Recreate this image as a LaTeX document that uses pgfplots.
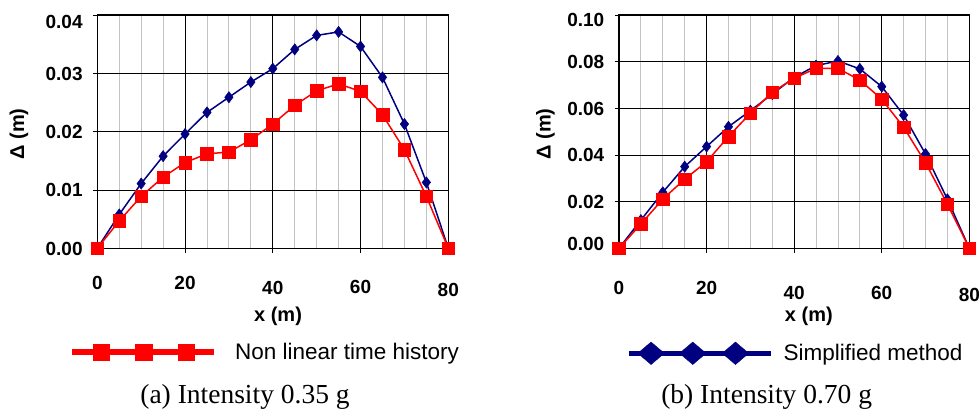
\documentclass[border=0pt]{standalone}
\usepackage{fontspec}
\setmainfont{Liberation Serif}
\setsansfont{Liberation Sans}
\usepackage{pgfplots}
\usepackage{pgfplotstable}
\pgfplotsset{compat=1.18}
\definecolor{navyblue}{RGB}{0,0,128}
\definecolor{purered}{RGB}{255,0,0}
\definecolor{mgrid}{RGB}{195,195,195}

\pgfplotstableread{
x  nlA     smA     nlB     smB
0  0       0       0       0
5  0.0047  0.0058  0.0104  0.0121
10 0.0089  0.0111  0.0211  0.0240
15 0.0122  0.0158  0.0296  0.0350
20 0.0147  0.0196  0.0371  0.0436
25 0.0162  0.0233  0.0479  0.0521
30 0.0165  0.0259  0.0579  0.0590
35 0.0186  0.0285  0.0669  0.0661
40 0.0213  0.0308  0.0729  0.0733
45 0.0245  0.0341  0.0771  0.0783
50 0.0270  0.0365  0.0771  0.0803
55 0.0282  0.0371  0.0721  0.0769
60 0.0269  0.0346  0.0639  0.0693
65 0.0229  0.0293  0.0519  0.0571
70 0.0169  0.0213  0.0367  0.0404
75 0.0089  0.0113  0.0189  0.0210
80 0       0       0       0
}\datatable

\newcommand{\tickfont}{\fontsize{19bp}{19bp}\selectfont\sffamily\bfseries}
\newcommand{\labfont}{\fontsize{20bp}{20bp}\selectfont\sffamily\bfseries}
\newcommand{\legfont}{\fontsize{22.5bp}{22.5bp}\selectfont\sffamily}
\newcommand{\capfont}{\fontsize{27.5bp}{27.5bp}\selectfont\rmfamily}

\pgfplotsset{
  myaxis/.style={
    scale only axis,
    height=233.3bp,
    xmin=0, xmax=80,
    xtick={0,20,40,60,80},
    minor xtick={5,10,15,25,30,35,45,50,55,65,70,75},
    scaled y ticks=false, scaled x ticks=false,
    grid=both,
    major grid style={black, line width=0.7bp},
    minor grid style={mgrid, line width=0.9bp},
    axis line style={black, line width=1.1bp},
    tick align=outside,
    major tick length=4.5bp,
    minor tick length=0pt,
    tick style={black, line width=0.8bp},
    xtick pos=bottom, ytick pos=left,
    xticklabel style={font=\tickfont, anchor=base, inner sep=0pt, yshift=-36.7bp},
    yticklabel style={font=\tickfont, anchor=base east, inner sep=0pt, xshift=-10bp, yshift=-6.7bp},
    xlabel={x (m)},
    ylabel={Δ (m)},
    every axis x label/.style={anchor=center, font=\labfont},
    every axis y label/.style={anchor=center, rotate=90, font=\labfont},
    clip=false,
    legend style={draw=none, fill=none, inner sep=0pt, outer sep=0pt,
      font=\legfont, anchor=west,
      nodes={inner sep=0pt, outer sep=0pt}},
    legend cell align=left,
  },
  bluestyle/.style={color=navyblue, line width=1.5bp, mark=diamond*, mark size=5.6bp,
    mark options={solid, fill=navyblue, line width=0.5bp}},
  redstyle/.style={color=purered, line width=1.5bp, mark=square*, mark size=6.3bp,
    mark options={solid, fill=purered, line width=0.5bp}},
}

\begin{document}
\begin{tikzpicture}[x=1bp, y=1bp]
\path[use as bounding box] (0,0) rectangle (980,410);

\begin{axis}[myaxis,
  at={(97.3bp,161.7bp)}, anchor=south west, width=351bp,
  ymin=0, ymax=0.04,
  ytick={0,0.01,0.02,0.03,0.04},
  yticklabels={0.00,0.01,0.02,0.03,\raisebox{-7bp}{0.04}},
  xticklabels={0,20,\raisebox{-5bp}{40},\raisebox{-4bp}{60},\raisebox{-7bp}{80}},
  xlabel style={at={(axis description cs:0.515,-0.290)}},
  ylabel style={at={(axis description cs:-0.223,0.49)}},
  legend style={at={(axis description cs:-0.0798,-0.4445)}},
  legend image code/.code={
    \draw[#1, line width=5.5bp, mark=none] (0bp,0bp) -- (142.4bp,0bp);
    \path[#1, mark size=8.3bp, mark options={solid, line width=0.3bp}] plot coordinates {(29bp,0bp) (71.7bp,0bp) (114bp,0bp)};
    \path (162.4bp,0bp);
  },
]
\addplot[bluestyle, forget plot] table[x=x, y=smA] {\datatable};
\addplot[redstyle] table[x=x, y=nlA] {\datatable};
\addlegendentry{Non linear time history}
\end{axis}

\begin{axis}[myaxis,
  at={(619bp,161.7bp)}, anchor=south west, width=350.3bp,
  ymin=0, ymax=0.1,
  ytick={0,0.02,0.04,0.06,0.08,0.1},
  yticklabels={\raisebox{4.8bp}{0.00},0.02,0.04,0.06,0.08,\raisebox{-5bp}{0.10}},
  xticklabels={\raisebox{-5bp}{0},\raisebox{-5bp}{20},\raisebox{-10bp}{40},\raisebox{-10bp}{60},\raisebox{-11.7bp}{80}},
  xlabel style={at={(axis description cs:0.542,-0.290)}},
  ylabel style={at={(axis description cs:-0.21,0.49)}},
  legend style={at={(axis description cs:0.02,-0.450)}},
  legend image code/.code={
    \draw[#1, line width=5.5bp, mark=none] (0bp,0bp) -- (142.3bp,0bp);
    \path[#1, mark size=11.3bp, mark options={solid, line width=0.3bp, xscale=1.57}] plot coordinates {(22.3bp,0bp) (64bp,0bp) (106.7bp,0bp)};
    \path (154bp,0bp);
  },
]
\addplot[bluestyle] table[x=x, y=smB] {\datatable};
\addlegendentry{Simplified method}
\addplot[redstyle, forget plot] table[x=x, y=nlB] {\datatable};
\end{axis}

\node[anchor=base, font=\capfont, inner sep=0pt] at (245,7) {(a) Intensity 0.35 g};
\node[anchor=base, font=\capfont, inner sep=0pt] at (766.7,7) {(b) Intensity 0.70 g};
\end{tikzpicture}
\end{document}
